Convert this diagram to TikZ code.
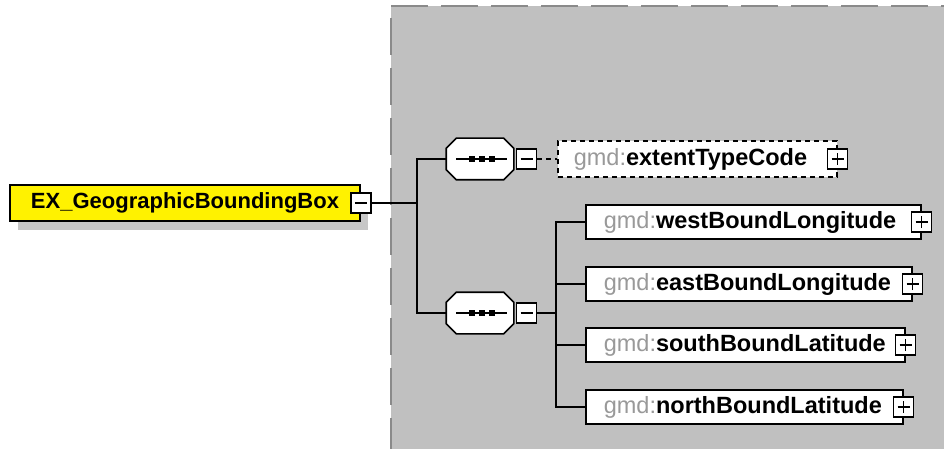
\documentclass[tikz,border=0pt]{standalone}
\usepackage{fontspec}
\setmainfont{Liberation Sans}
\usepackage{xcolor}
\usepackage{tikz}
\usetikzlibrary{positioning, shadows}
\definecolor{panelgray}{HTML}{C0C0C0}
\definecolor{paneledge}{HTML}{8A8A8A}
\definecolor{nsgray}{HTML}{999999}
\newcommand{\gmd}{{\mdseries\color{nsgray}gmd:}}
% octagon and dots of a sequence compositor, drawn round a node
\newcommand{\seqsymbol}[1]{
  \draw[fill=white] ([xshift=10pt]#1.north west) -- ([xshift=-10pt]#1.north east)
    -- ([yshift=-10pt]#1.north east) -- ([yshift=10pt]#1.south east)
    -- ([xshift=-10pt]#1.south east) -- ([xshift=10pt]#1.south west)
    -- ([yshift=10pt]#1.south west) -- ([yshift=-10pt]#1.north west) -- cycle;
  \draw[line width=1.6pt] ([xshift=10pt]#1.west) -- ([xshift=-7pt]#1.east);
  \foreach \dx in {-8,2,12} \fill[black] ([xshift=\dx pt]#1.center) +(-3,-3) rectangle +(3,3);
}

\begin{document}
\begin{tikzpicture}[
  x=1pt, y=-1pt, line width=1.6pt,
  font=\fontsize{23.5}{28}\selectfont\bfseries,
  rootbox/.style={rectangle, draw, fill=yellow, minimum width=350, minimum height=36, inner sep=0,
    font=\fontsize{22}{26}\selectfont\bfseries,
    drop shadow={shadow xshift=8pt, shadow yshift=-9pt, fill=black!22, opacity=1}},
  element/.style={rectangle, draw, fill=white, anchor=west, minimum height=34, inner xsep=18, inner ysep=0, align=left},
  optelement/.style={element, dash pattern=on 5pt off 4pt, inner xsep=16, minimum height=36},
  compositor/.style={rectangle, minimum width=66, minimum height=40, inner sep=0},
  collapse/.style={rectangle, draw, fill=white, minimum size=20, inner sep=0,
    path picture={\draw[line width=1.2pt] ([xshift=4pt]path picture bounding box.west) -- ([xshift=-4pt]path picture bounding box.east);}},
  expand/.style={collapse,
    path picture={\draw[line width=1.2pt] ([xshift=4pt]path picture bounding box.west) -- ([xshift=-4pt]path picture bounding box.east)
      ([yshift=4pt]path picture bounding box.south) -- ([yshift=-4pt]path picture bounding box.north);}}
]
  \useasboundingbox (0,0) rectangle (944,449);
  \fill[panelgray] (391,6) rectangle (944,449);
  \draw[paneledge, line width=2pt, dash pattern=on 37pt off 13pt] (391,6) -- (944,6);
  \draw[paneledge, line width=2pt, dash pattern=on 37pt off 13pt] (391,18) -- (391,449);

  \node[rootbox] (root) at (185,203) {EX\_GeographicBoundingBox};
  \node[collapse] (rootminus) at (root.east) {};
  \coordinate (fork) at (417,203);

  \node[compositor] (seq1) at (480,159) {};
  \seqsymbol{seq1}
  \node[collapse, right=2pt of seq1] (seq1minus) {};
  \node[optelement, text width=247] (extent) at (557,159) {\gmd extentTypeCode};
  \node[expand] (extentplus) at (extent.east) {};

  \node[compositor] (seq2) at (480,313) {};
  \seqsymbol{seq2}
  \node[collapse, right=2pt of seq2] (seq2minus) {};
  \coordinate (fork2) at (556,313);
  \node[element, text width=299] (west) at (585,222) {\gmd westBoundLongitude};
  \node[expand] (westplus) at (west.east) {};
  \node[element, text width=290] (east) at (585,284) {\gmd eastBoundLongitude};
  \node[expand] (eastplus) at (east.east) {};
  \node[element, text width=283] (south) at (585,345) {\gmd southBoundLatitude};
  \node[expand] (southplus) at (south.east) {};
  \node[element, text width=281] (north) at (585,407) {\gmd northBoundLatitude};
  \node[expand] (northplus) at (north.east) {};

  \draw (rootminus) -- (fork);
  \draw (fork) |- (seq1);
  \draw (fork) |- (seq2);
  \draw[dash pattern=on 5pt off 4pt] (seq1minus) -- (extent);
  \draw (seq2minus) -- (fork2);
  \draw (fork2) |- (west);
  \draw (fork2) |- (east);
  \draw (fork2) |- (south);
  \draw (fork2) |- (north);
\end{tikzpicture}
\end{document}
